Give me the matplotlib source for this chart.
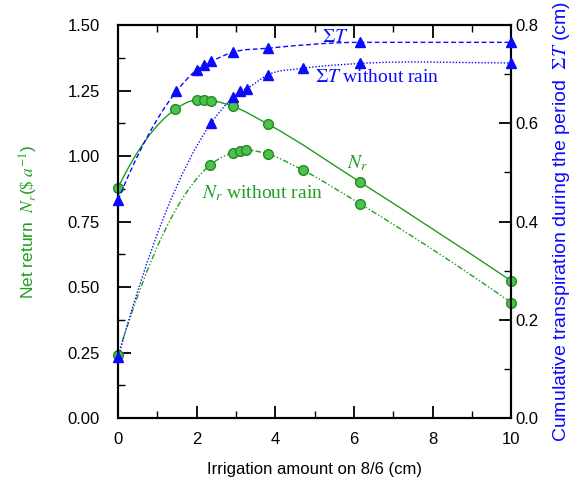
import matplotlib
matplotlib.use("Agg")
import matplotlib.pyplot as plt
from matplotlib.path import Path
from matplotlib.patches import PathPatch
from matplotlib.ticker import MultipleLocator, FormatStrFormatter

# irrigation amount (cm) and read-off values
x_nr = [0, 1.45, 2.0, 2.18, 2.36, 2.92, 3.81, 6.16, 10]
nr = [0.88, 1.178, 1.214, 1.214, 1.212, 1.19, 1.122, 0.90, 0.523]

x_nr_dry = [0, 2.34, 2.92, 3.09, 3.26, 3.81, 4.69, 6.16, 10]
nr_dry = [0.24, 0.966, 1.013, 1.02, 1.023, 1.008, 0.947, 0.817, 0.44]

x_t = [0, 1.48, 2.0, 2.18, 2.36, 2.92, 3.81, 6.16, 10]
sum_t = [0.444, 0.665, 0.709, 0.719, 0.726, 0.745, 0.753, 0.765, 0.765]

x_t_dry = [0, 2.36, 2.92, 3.09, 3.27, 3.81, 4.69, 6.16, 10]
sum_t_dry = [0.124, 0.60, 0.653, 0.665, 0.671, 0.699, 0.712, 0.722, 0.723]

GREEN = '#1e9e1e'
BLUE = '#0a0aff'
SERIF = ['Liberation Serif', 'DejaVu Serif']

plt.rcParams['font.family'] = ['Liberation Sans', 'DejaVu Sans']
plt.rcParams['mathtext.fontset'] = 'stix'


def smooth_curve(ax, xs, ys, **kw):
    """Draw a smooth monotone cubic curve through the points (Bezier path)."""
    n = len(xs)
    h = [xs[i + 1] - xs[i] for i in range(n - 1)]
    d = [(ys[i + 1] - ys[i]) / h[i] for i in range(n - 1)]
    s = [0.0] * n
    for i in range(1, n - 1):
        if d[i - 1] * d[i] > 0:
            s[i] = (h[i - 1] * d[i] + h[i] * d[i - 1]) / (h[i - 1] + h[i])
    s[0] = 2 * d[0] - s[1]
    s[-1] = 2 * d[-1] - s[-2]
    if s[-1] * d[-1] < 0:
        s[-1] = 0.0
    verts = [(xs[0], ys[0])]
    codes = [Path.MOVETO]
    for i in range(n - 1):
        verts += [(xs[i] + h[i] / 3, ys[i] + s[i] * h[i] / 3),
                  (xs[i + 1] - h[i] / 3, ys[i + 1] - s[i + 1] * h[i] / 3),
                  (xs[i + 1], ys[i + 1])]
        codes += [Path.CURVE4] * 3
    ax.add_patch(PathPatch(Path(verts, codes), fill=False, **kw))


fig = plt.figure(figsize=(5.76, 4.93), dpi=100)
ax = fig.add_axes([0.205, 0.152, 0.683, 0.797])
ax2 = ax.twinx()

# net return curves (left axis)
smooth_curve(ax, x_nr, nr, edgecolor=GREEN, lw=1.0, linestyle='-')
smooth_curve(ax, x_nr_dry, nr_dry, edgecolor=GREEN, lw=1.0,
             linestyle=(0, (4, 1.5, 1, 1.5, 1, 1.5)))
for xs, ys in [(x_nr, nr), (x_nr_dry, nr_dry)]:
    ax.plot(xs, ys, 'o', ms=7, mfc='#4cc24c', mec='#238a23', mew=1.0,
            clip_on=False, zorder=5)

# cumulative transpiration curves (right axis)
smooth_curve(ax2, x_t, sum_t, edgecolor=BLUE, lw=1.0, linestyle=(0, (3.5, 2)))
smooth_curve(ax2, x_t_dry, sum_t_dry, edgecolor=BLUE, lw=1.0,
             linestyle=(0, (1, 1.3)))
for xs, ys in [(x_t, sum_t), (x_t_dry, sum_t_dry)]:
    ax2.plot(xs, ys, '^', ms=7.5, color=BLUE, mec=BLUE, clip_on=False, zorder=5)

# axes limits and ticks
ax.set_xlim(0, 10)
ax.set_ylim(0, 1.5)
ax2.set_ylim(0, 0.8)
ax.xaxis.set_major_locator(MultipleLocator(2))
ax.xaxis.set_minor_locator(MultipleLocator(1))
ax.yaxis.set_major_locator(MultipleLocator(0.25))
ax.yaxis.set_minor_locator(MultipleLocator(0.125))
ax2.yaxis.set_major_locator(MultipleLocator(0.2))
ax2.yaxis.set_minor_locator(MultipleLocator(0.1))
ax.yaxis.set_major_formatter(FormatStrFormatter('%.2f'))
ax2.yaxis.set_major_formatter(FormatStrFormatter('%.1f'))

ax.tick_params(axis='x', which='both', direction='in', top=True, labelsize=12, pad=10)
ax.tick_params(axis='y', which='both', direction='in', right=False, labelsize=12, pad=13)
ax2.tick_params(axis='y', which='both', direction='in', labelsize=12, pad=3)
for a in (ax, ax2):
    a.tick_params(which='major', length=9, width=1.3)
    a.tick_params(which='minor', length=5, width=1.0)
    for sp in a.spines.values():
        sp.set_linewidth(1.5)

ax.set_xlabel('Irrigation amount on 8/6 (cm)', fontsize=12, labelpad=11)
ax.set_ylabel(r'Net return  $N_r$($\$\ a^{-1}$)', fontsize=12.5, color=GREEN, labelpad=20)
ax2.set_ylabel(r'Cumulative transpiration during the period  $\Sigma T$ (cm)',
               fontsize=14, color=BLUE, labelpad=9)

# curve annotations
ax2.text(5.19, 0.765, r'$\Sigma T$', color=BLUE, fontsize=14, family=SERIF)
ax2.text(5.01, 0.684, r'$\Sigma T$ without rain', color=BLUE, fontsize=14, family=SERIF)
ax.text(5.83, 0.955, r'$N_r$', color=GREEN, fontsize=14, family=SERIF)
ax.text(2.14, 0.84, r'$N_r$ without rain', color=GREEN, fontsize=14, family=SERIF)

fig.savefig('out.png', dpi=100)
